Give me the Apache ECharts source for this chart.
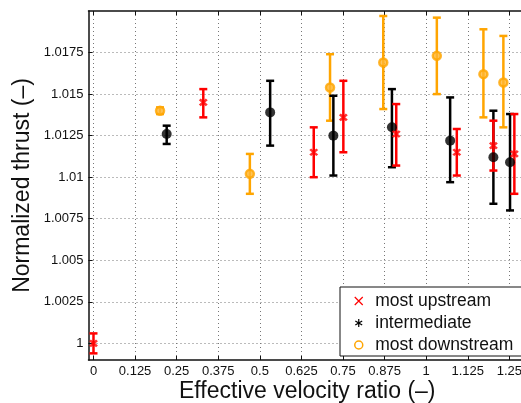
<!DOCTYPE html>
<html>
<head>
<meta charset="utf-8">
<script src="https://cdn.jsdelivr.net/npm/echarts@6/dist/echarts.min.js"></script>
<style>
  html, body { margin: 0; padding: 0; background: #fff; }
  #chart { width: 521px; height: 403px; }
</style>
</head>
<body>
<div id="chart"></div>
<script>
// tick labels
const xTicks = [0, 0.125, 0.25, 0.375, 0.5, 0.625, 0.75, 0.875, 1, 1.125, 1.25];
const yTicks = [1, 1.0025, 1.005, 1.0075, 1.01, 1.0125, 1.015, 1.0175];

// most upstream: x, mean, low, high
const upX = [0, 0.33, 0.662, 0.751, 0.910, 1.092, 1.202, 1.265];
const upY = [1.0, 1.0145, 1.0115, 1.0136, 1.0126, 1.0115, 1.0119, 1.0114];
const upLo = [0.9994, 1.0136, 1.0100, 1.0115, 1.0107, 1.0101, 1.0104, 1.0090];
const upHi = [1.0006, 1.0153, 1.0130, 1.0158, 1.0144, 1.0129, 1.0134, 1.0138];

// intermediate
const midX = [0.220, 0.531, 0.721, 0.897, 1.072, 1.202, 1.252];
const midY = [1.0126, 1.0139, 1.0125, 1.0130, 1.0122, 1.0112, 1.0109];
const midLo = [1.0120, 1.0119, 1.0101, 1.0106, 1.0097, 1.0084, 1.0080];
const midHi = [1.0131, 1.0158, 1.0149, 1.0153, 1.0148, 1.0140, 1.0138];

// most downstream
const downX = [0.200, 0.470, 0.711, 0.871, 1.032, 1.172, 1.232];
const downY = [1.0140, 1.0102, 1.0154, 1.0169, 1.0173, 1.0162, 1.0157];
const downLo = [1.0138, 1.0090, 1.0134, 1.0141, 1.0150, 1.0136, 1.0130];
const downHi = [1.0142, 1.0114, 1.0174, 1.0197, 1.0196, 1.0189, 1.0185];

const RED = "#ff0000";
const BLACK = "#000000";
const ORANGE = "#ffa500";

const crossPath = "path://M0,0L10,10M10,0L0,10";
const starPath = "path://M5,0L5,10M0.7,2.5L9.3,7.5M0.7,7.5L9.3,2.5";

const chart = echarts.init(document.getElementById("chart"));

function errData(xs, lo, hi) {
  return xs.map((x, i) => [x, lo[i], hi[i]]);
}
function ptData(xs, ys) {
  return xs.map((x, i) => [x, ys[i]]);
}

function errorBars(name, color, data) {
  return {
    name: name,
    type: "custom",
    data: data,
    encode: { x: 0, y: [1, 2] },
    z: 3,
    renderItem: (params, api) => {
      const x = api.value(0);
      const lo = api.coord([x, api.value(1)]);
      const hi = api.coord([x, api.value(2)]);
      const w = 4;
      const style = { stroke: color, lineWidth: 2.5, fill: null };
      return {
        type: "group",
        children: [
          { type: "line", shape: { x1: lo[0], y1: lo[1], x2: hi[0], y2: hi[1] }, style: style },
          { type: "line", shape: { x1: lo[0] - w, y1: lo[1], x2: lo[0] + w, y2: lo[1] }, style: style },
          { type: "line", shape: { x1: hi[0] - w, y1: hi[1], x2: hi[0] + w, y2: hi[1] }, style: style },
        ],
      };
    },
  };
}

const dotted = { show: true, lineStyle: { color: "#777", type: [1, 3], width: 1 } };
const labelFont = { fontFamily: "Liberation Sans", fontSize: 13, color: "#111" };

const option = {
  animation: false,
  backgroundColor: "#fff",
  grid: { left: 88.5, right: -5, top: 11, bottom: 43, outerBoundsMode: "none", containLabel: false },
  xAxis: [
    {
      type: "value",
      min: -0.015,
      max: 1.3,
      name: "Effective velocity ratio (–)",
      nameLocation: "middle",
      nameGap: 20,
      nameMoveOverlap: false,
      nameTextStyle: { fontFamily: "Liberation Sans", fontSize: 23, color: "#111" },
      axisLine: { show: true, onZero: false, lineStyle: { color: "#111", width: 1.5 } },
      axisTick: { show: true, inside: true, length: 4, customValues: xTicks, lineStyle: { color: "#111" } },
      axisLabel: { customValues: xTicks, margin: 5, ...labelFont, formatter: (v) => String(v) },
      splitLine: dotted,
    },
    {
      type: "value",
      position: "top",
      min: -0.015,
      max: 1.3,
      axisLine: { show: true, onZero: false, lineStyle: { color: "#111", width: 1.5 } },
      axisTick: { show: true, inside: true, length: 4, customValues: xTicks, lineStyle: { color: "#111" } },
      axisLabel: { show: false },
      splitLine: { show: false },
    },
  ],
  yAxis: [
    {
      type: "value",
      min: 0.999,
      max: 1.02,
      name: "Normalized thrust (–)",
      nameLocation: "middle",
      nameGap: 54,
      nameMoveOverlap: false,
      nameTextStyle: { fontFamily: "Liberation Sans", fontSize: 23, color: "#111" },
      axisLine: { show: true, onZero: false, lineStyle: { color: "#111", width: 1.5 } },
      axisTick: { show: true, inside: true, length: 4, customValues: yTicks, lineStyle: { color: "#111" } },
      axisLabel: { customValues: yTicks, margin: 5, ...labelFont, formatter: (v) => String(v) },
      splitLine: dotted,
    },
  ],
  legend: {
    orient: "vertical",
    left: 340,
    top: 287,
    padding: [5, 10, 2, 14],
    itemGap: 4,
    itemWidth: 23,
    itemHeight: 8,
    backgroundColor: "#fff",
    borderColor: "#111",
    borderWidth: 1,
    borderRadius: 0,
    textStyle: { fontFamily: "Liberation Sans", fontSize: 17.5, color: "#111" },
    data: [
      { name: "most upstream", icon: crossPath, itemStyle: { color: "transparent", borderColor: RED, borderWidth: 1.2 } },
      { name: "intermediate", icon: starPath, itemStyle: { color: "transparent", borderColor: BLACK, borderWidth: 1.2 } },
      { name: "most downstream", icon: "circle", itemStyle: { color: "transparent", borderColor: ORANGE, borderWidth: 1.5 } },
    ],
  },
  series: [
    errorBars("most downstream", ORANGE, errData(downX, downLo, downHi)),
    {
      name: "most downstream",
      type: "scatter",
      data: ptData(downX, downY),
      symbol: "circle",
      symbolSize: 8,
      z: 4,
      itemStyle: { color: "#ffb733", borderColor: ORANGE, borderWidth: 2.5 },
    },
    errorBars("intermediate", BLACK, errData(midX, midLo, midHi)),
    {
      name: "intermediate",
      type: "scatter",
      data: ptData(midX, midY),
      symbol: "circle",
      symbolSize: 10,
      z: 4,
      itemStyle: { color: BLACK },
    },
    errorBars("most upstream", RED, errData(upX, upLo, upHi)),
    {
      name: "most upstream",
      type: "scatter",
      data: ptData(upX, upY),
      symbol: crossPath,
      symbolSize: [7, 6],
      z: 4,
      itemStyle: { color: "transparent", borderColor: RED, borderWidth: 2.5 },
    },
  ],
};

chart.setOption(option);
</script>
</body>
</html>
